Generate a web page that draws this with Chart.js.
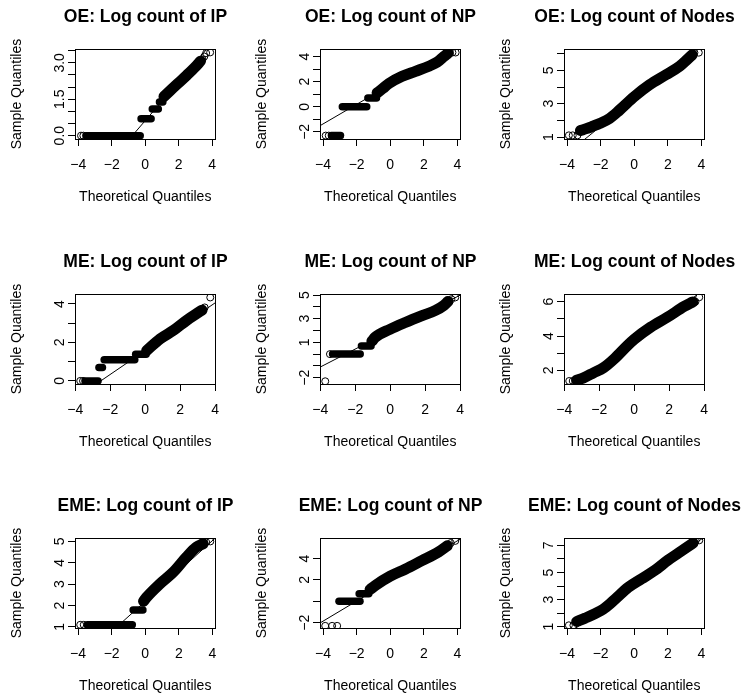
<!DOCTYPE html>
<html>
<head>
<meta charset="utf-8">
<script src="https://cdn.jsdelivr.net/npm/chart.js@4.4.1/dist/chart.umd.min.js"></script>
<style>
  html, body { margin: 0; padding: 0; background: #fff; }
  body { width: 744px; height: 697px; overflow: hidden; position: relative; }
  canvas { position: absolute; }
</style>
</head>
<body>
<script>
/* ===== data ===== */

const titles = [
    "OE: Log count of IP", "OE: Log count of NP", "OE: Log count of Nodes",
    "ME: Log count of IP", "ME: Log count of NP", "ME: Log count of Nodes",
    "EME: Log count of IP", "EME: Log count of NP", "EME: Log count of Nodes"
];

const xTicks = [-4, -2, 0, 2, 4];

const xRanges = [
    [-4.2, 4.2], [-4.18, 4.18], [-4.18, 4.18],
    [-4.02, 4.02], [-4.02, 4.02], [-4.02, 4.02],
    [-4.18, 4.18], [-4.18, 4.18], [-4.18, 4.18]
];

const yRanges = [
    [-0.137, 3.57], [-2.57, 4.6], [0.88, 6.28],
    [-0.16, 4.52], [-2.53, 5.09], [1.21, 6.45],
    [0.95, 5.16], [-2.5, 5.92], [0.9, 7.55]
];

const yTicks = [
    [0, 0.5, 1, 1.5, 2, 2.5, 3, 3.5],
    [-2, -1, 0, 1, 2, 3, 4],
    [1, 2, 3, 4, 5, 6],
    [0, 1, 2, 3, 4],
    [-2, -1, 0, 1, 2, 3, 4, 5],
    [2, 3, 4, 5, 6],
    [1, 2, 3, 4, 5],
    [-2, 0, 2, 4],
    [1, 2, 3, 4, 5, 6, 7]
];

const yLabels = [
    ["0.0", "1.5", "3.0"],
    ["-2", "0", "2", "4"],
    ["1", "3", "5"],
    ["0", "2", "4"],
    ["-2", "1", "3", "5"],
    ["2", "4", "6"],
    ["1", "2", "3", "4", "5"],
    ["-2", "2", "4"],
    ["1", "3", "5", "7"]
];

// sample quantile runs: [theoretical, sample]
const oeIp = [
    [[-3.55, 0], [-0.3, 0]],
    [[-0.25, 0.693], [0.35, 0.693]],
    [[0.42, 1.099], [0.78, 1.099]],
    [[0.85, 1.386], [1.05, 1.386]],
    [[1.12, 1.61], [1.5, 1.86], [2.0, 2.18], [2.5, 2.5], [3.0, 2.84], [3.3, 3.07]]
];
const oeNp = [
    [[-3.5, -2.3], [-2.96, -2.3]],
    [[-2.85, 0], [-1.4, 0]],
    [[-1.33, 0.693], [-0.82, 0.693]],
    [[-0.78, 1.1], [-0.45, 1.45], [-0.08, 1.85], [0.71, 2.42], [1.5, 2.82], [2.3, 3.23], [2.79, 3.55], [3.19, 4.0], [3.42, 4.25]]
];
const oeNodes = [
    [[-3.2, 1.39], [-2.85, 1.5], [-2.46, 1.65], [-2.06, 1.81], [-1.47, 2.11], [-0.87, 2.62], [0, 3.42], [0.91, 4.13], [1.9, 4.74], [2.69, 5.24], [3.19, 5.69], [3.45, 5.93]]
];
const meIp = [
    [[-3.45, 0], [-2.7, 0]],
    [[-2.65, 0.693], [-2.45, 0.693]],
    [[-2.35, 1.099], [-0.6, 1.099]],
    [[-0.55, 1.386], [0.05, 1.386]],
    [[0.08, 1.58], [0.85, 2.19], [1.62, 2.63], [2.38, 3.16], [2.96, 3.51], [3.25, 3.68]]
];
const meNp = [
    [[-3.3, 0], [-1.72, 0]],
    [[-1.65, 0.693], [-1.1, 0.693]],
    [[-1.05, 1.099], [-0.86, 1.43], [-0.02, 2.1], [0.86, 2.68], [1.82, 3.26], [2.59, 3.7], [3.07, 4.13], [3.3, 4.45]]
];
const meNodes = [
    [[-3.3, 1.43], [-2.9, 1.57], [-2.33, 1.86], [-1.75, 2.16], [-1.17, 2.65], [-0.4, 3.44], [0.02, 3.83], [0.94, 4.52], [1.9, 5.1], [2.87, 5.73], [3.35, 5.99]]
];
const emeIp = [
    [[-3.45, 1.099], [-0.77, 1.099]],
    [[-0.72, 1.79], [-0.14, 1.79]],
    [[-0.1, 2.2], [0.06, 2.37], [0.85, 3.0], [1.65, 3.55], [2.44, 4.26], [3.04, 4.73], [3.44, 4.89]]
];
const emeNp = [
    [[-3.05, 0], [-1.8, 0]],
    [[-1.85, 0.693], [-1.28, 0.693]],
    [[-1.2, 1.099], [-0.89, 1.48], [0, 2.35], [0.89, 3.0], [1.88, 3.8], [2.87, 4.61], [3.4, 5.2]]
];
const emeNodes = [
    [[-3.42, 1.38], [-2.92, 1.63], [-2.33, 1.96], [-1.74, 2.39], [-1.15, 3.02], [-0.36, 3.9], [0.43, 4.53], [1.23, 5.16], [2.02, 5.92], [2.61, 6.42], [3.2, 6.92], [3.5, 7.18]]
];

const curves = [oeIp, oeNp, oeNodes, meIp, meNp, meNodes, emeIp, emeNp, emeNodes];

// lone points at the tails, drawn as open circles
const tails = [
    [[-3.84, 0], [-3.7, 0], [3.42, 3.14], [3.53, 3.26], [3.64, 3.4], [3.88, 3.43]],
    [[-3.84, -2.3], [-3.66, -2.3], [3.56, 4.3], [3.7, 4.32], [3.89, 4.32]],
    [[-3.89, 1.099], [-3.66, 1.099], [-3.38, 1.099], [3.58, 6.06], [3.84, 6.06]],
    [[-3.72, 0], [-3.56, 0], [3.4, 3.82], [3.72, 4.34]],
    [[-3.72, -2.3], [-3.45, 0], [3.5, 4.65], [3.72, 4.8]],
    [[-3.72, 1.386], [-3.52, 1.386], [3.5, 6.0], [3.72, 6.26]],
    [[-3.87, 1.099], [-3.66, 1.099], [3.62, 4.97], [3.87, 5.0]],
    [[-3.87, -2.3], [-3.46, -2.3], [-3.16, -2.3], [3.6, 5.45], [3.87, 5.65]],
    [[-3.89, 1.099], [-3.62, 1.099], [3.66, 7.36], [3.87, 7.38]]
];

// qqline end points
const qqLines = [
    [[-4.3, -2.82], [4.3, 4.06]],
    [[-4.3, -1.604], [4.3, 5.104]],
    [[-4.3, -0.246], [4.3, 6.806]],
    [[-4.3, -1.086], [4.3, 4.246]],
    [[-4.3, -1.318], [4.3, 5.218]],
    [[-4.3, 0.246], [4.3, 6.954]],
    [[-4.3, -0.853], [4.3, 5.253]],
    [[-4.3, -2.142], [4.3, 5.942]],
    [[-4.3, 0.166], [4.3, 7.734]]
];

/* ===== layout ===== */

const colLeft = [0, 245, 489];
const rowTop = [0, 245, 489];

Chart.defaults.font.family = '"Liberation Sans", Arial, Helvetica, sans-serif';
Chart.defaults.color = "#000";

function toPoints(list) {
    return list.map(p => ({ x: p[0], y: p[1] }));
}

function minusSign(s) {
    return String(s).replace("-", "\u2212");
}

// box round the plot region + rotated y labels (R style)
function panelPlugin(i) {
    return {
        id: "rPanel" + i,
        afterDraw(chart) {
            const ctx = chart.ctx;
            const area = chart.chartArea;
            const yScale = chart.scales.y;

            const l = Math.round(area.left - 0.5) + 0.5;
            const r = Math.round(area.right - 0.5) + 0.5;
            const t = Math.round(area.top - 0.5) + 0.5;
            const b = Math.round(area.bottom - 0.5) + 0.5;

            ctx.save();
            ctx.strokeStyle = "#000";
            ctx.lineWidth = 1;
            ctx.strokeRect(l, t, r - l, b - t);

            ctx.fillStyle = "#000";
            ctx.font = '14px "Liberation Sans", Arial, sans-serif';
            ctx.textAlign = "center";
            ctx.textBaseline = "alphabetic";

            yLabels[i].forEach(label => {
                const py = yScale.getPixelForValue(parseFloat(label));
                ctx.save();
                ctx.translate(area.left - 11, py);
                ctx.rotate(-Math.PI / 2);
                ctx.fillText(minusSign(label), 0, 0);
                ctx.restore();
            });

            ctx.restore();
        }
    };
}

function makePanel(i) {

    const canvas = document.createElement("canvas");
    canvas.width = 291;
    canvas.height = 245;
    canvas.style.left = colLeft[i % 3] + "px";
    canvas.style.top = rowTop[Math.floor(i / 3)] + "px";
    document.body.appendChild(canvas);

    const datasets = [];

    datasets.push({
        data: toPoints(tails[i]),
        showLine: false,
        pointRadius: 3.5,
        pointBorderWidth: 1,
        pointBorderColor: "#000",
        pointBackgroundColor: "rgba(0,0,0,0)",
        clip: 0
    });

    curves[i].forEach(seg => {
        const flat = seg.length === 2 && seg[0][1] === seg[1][1];
        datasets.push({
            data: toPoints(seg),
            showLine: true,
            borderColor: "#000",
            borderWidth: flat ? 7.5 : 11,
            borderCapStyle: "round",
            borderJoinStyle: "round",
            cubicInterpolationMode: "monotone",
            pointRadius: 0,
            clip: 0
        });
    });

    datasets.push({
        data: toPoints(qqLines[i]),
        showLine: true,
        borderColor: "#000",
        borderWidth: 1,
        pointRadius: 0,
        clip: 0
    });

    const grid = {
        display: true,
        drawOnChartArea: false,
        drawTicks: true,
        tickLength: 7,
        color: "#000",
        lineWidth: 1
    };

    new Chart(canvas, {
        type: "scatter",
        data: { datasets: datasets },
        options: {
            responsive: false,
            animation: false,
            devicePixelRatio: 1,
            events: [],
            layout: { padding: 0 },
            plugins: {
                legend: { display: false },
                tooltip: { enabled: false },
                title: {
                    display: true,
                    text: titles[i],
                    color: "#000",
                    font: { size: 17.5, weight: "bold", lineHeight: 1.2 },
                    padding: { top: 6.4, bottom: 21.6 }
                }
            },
            scales: {
                x: {
                    type: "linear",
                    min: xRanges[i][0],
                    max: xRanges[i][1],
                    afterBuildTicks: scale => {
                        scale.ticks = xTicks.map(v => ({ value: v }));
                    },
                    afterFit: scale => { scale.height = 106; },
                    ticks: {
                        autoSkip: false,
                        maxRotation: 0,
                        padding: 11,
                        color: "#000",
                        font: { size: 14 },
                        callback: v => minusSign(v)
                    },
                    grid: grid,
                    border: { display: true, color: "#000", width: 1 },
                    title: {
                        display: true,
                        text: "Theoretical Quantiles",
                        color: "#000",
                        font: { size: 14 },
                        padding: { top: 0, bottom: 39.5 }
                    }
                },
                y: {
                    type: "linear",
                    min: yRanges[i][0],
                    max: yRanges[i][1],
                    afterBuildTicks: scale => {
                        scale.ticks = yTicks[i].map(v => ({ value: v }));
                    },
                    afterFit: scale => { scale.width = 75; },
                    ticks: { display: false },
                    grid: grid,
                    border: { display: true, color: "#000", width: 1 },
                    title: {
                        display: true,
                        text: "Sample Quantiles",
                        color: "#000",
                        font: { size: 14 },
                        padding: { top: 9, bottom: 0 }
                    }
                },
                // empty right margin so the title centres over the box
                yR: {
                    type: "linear",
                    position: "right",
                    display: true,
                    grid: { display: false, drawTicks: false },
                    ticks: { display: false },
                    border: { display: false },
                    afterFit: scale => { scale.width = 75.5; }
                }
            }
        },
        plugins: [panelPlugin(i)]
    });
}

for (let i = 0; i < 9; i++) {
    makePanel(i);
}
</script>
</body>
</html>
